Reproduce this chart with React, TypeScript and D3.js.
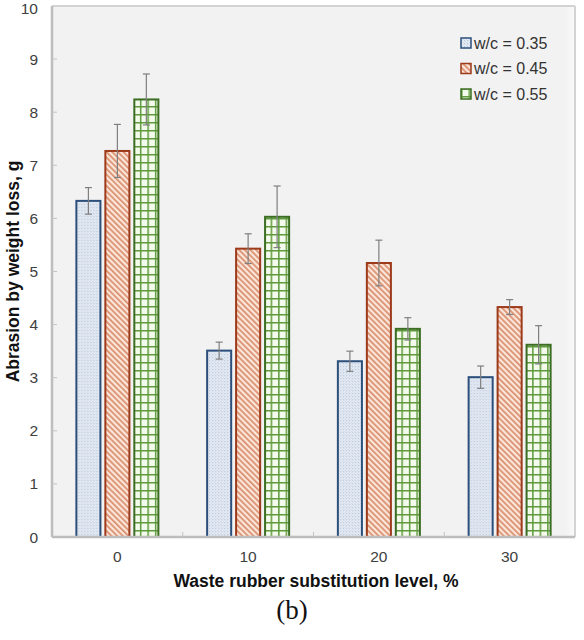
import { useEffect } from 'react';
import * as d3 from 'd3';

const categories = ['0', '10', '20', '30'];
const seriesNames = ['w/c = 0.35', 'w/c = 0.45', 'w/c = 0.55'];
const wc035 = [6.33, 3.51, 3.31, 3.01];
const wc045 = [7.27, 5.43, 5.16, 4.33];
const wc055 = [8.24, 6.03, 3.92, 3.62];
const err035 = [0.25, 0.16, 0.19, 0.21];
const err045 = [0.5, 0.28, 0.43, 0.14];
const err055 = [0.48, 0.58, 0.21, 0.36];
const yTicks = [0, 1, 2, 3, 4, 5, 6, 7, 8, 9, 10];

const W = 584;
const H = 640;
const left = 52;
const right = 575;
const top = 6;
const bottom = 537;

const strokes = ['#2d4f7c', '#9c3a1a', '#3b6d22'];
const patternIds = ['pat-dots', 'pat-hatch', 'pat-grid'];

const App = () => {
  useEffect(() => {
    document.body.style.margin = '0';
  }, []);

  const x = d3.scaleBand<string>().domain(categories).range([left, right]);
  const xs = d3.scaleBand<number>().domain([0, 1, 2]).range([-41, 41]).paddingInner(0.17);
  const y = d3.scaleLinear().domain([0, 10]).range([bottom, top]);

  const values = [wc035, wc045, wc055];
  const errs = [err035, err045, err055];
  const font = 'Liberation Sans, Arial, sans-serif';

  return (
    <svg width={W} height={H} style={{ display: 'block', background: '#fff' }}>
      <defs>
        <pattern id="pat-dots" width={3} height={3} patternUnits="userSpaceOnUse">
          <rect width={3} height={3} fill="#e6ecf4" />
          <circle cx={0.8} cy={0.8} r={0.55} fill="#8aa2c2" />
          <circle cx={2.3} cy={2.2} r={0.45} fill="#b0c1d8" />
        </pattern>
        <pattern id="pat-hatch" width={4} height={4} patternUnits="userSpaceOnUse" patternTransform="rotate(-45)">
          <rect width={4} height={4} fill="#fbe6da" />
          <rect x={0} width={1.7} height={4} fill="#d98d6c" />
        </pattern>
        <pattern id="pat-grid" width={7.5} height={8} patternUnits="userSpaceOnUse" x={0} y={2}>
          <rect width={7.5} height={8} fill="#f4fbec" />
          <rect x={0} y={0} width={7.5} height={1.5} fill="#5e9a3c" />
          <rect x={0} y={0} width={1.5} height={8} fill="#5e9a3c" />
        </pattern>
        <linearGradient id="edge" x1="0" x2="1" y1="0" y2="0">
          <stop offset="0" stopColor="#f2f2f2" />
          <stop offset="1" stopColor="#fafafa" />
        </linearGradient>
      </defs>

      {/* plot area */}
      <rect x={left} y={top} width={right - left} height={bottom - top} fill="#f2f2f2" />
      <rect x={right - 10} y={top} width={10} height={bottom - top} fill="url(#edge)" />
      <line x1={left} x2={right} y1={top} y2={top} stroke="#d3d3d3" strokeWidth={2} />
      <line x1={right} x2={right} y1={top} y2={bottom} stroke="#d3d3d3" strokeWidth={2} />

      {/* bars */}
      {categories.map((c, i) => (
        <g key={c} transform={`translate(${(x(c) ?? 0) + x.bandwidth() / 2},0)`}>
          {values.map((v, s) => {
            const bx = xs(s) ?? 0;
            const bw = xs.bandwidth();
            const val = v[i];
            const e = errs[s][i];
            const cx = bx + bw / 2;
            return (
              <g key={s}>
                <rect
                  x={bx}
                  y={y(val)}
                  width={bw}
                  height={y(0) - y(val)}
                  fill={`url(#${patternIds[s]})`}
                  stroke={strokes[s]}
                  strokeWidth={2}
                />
                <line x1={cx} x2={cx} y1={y(val + e)} y2={y(val - e)} stroke="#7f7f7f" strokeWidth={1.2} />
                <line x1={cx - 3.5} x2={cx + 3.5} y1={y(val + e)} y2={y(val + e)} stroke="#7f7f7f" strokeWidth={1.2} />
                <line x1={cx - 3.5} x2={cx + 3.5} y1={y(val - e)} y2={y(val - e)} stroke="#7f7f7f" strokeWidth={1.2} />
              </g>
            );
          })}
        </g>
      ))}

      {/* axes */}
      <line x1={left} x2={left} y1={top} y2={bottom} stroke="#bdbdbd" strokeWidth={2.5} />
      <line x1={left} x2={right} y1={bottom} y2={bottom} stroke="#bdbdbd" strokeWidth={2.5} />
      {yTicks.map((t) => (
        <g key={t}>
          {t > 0 && t < 10 && (
            <line x1={left} x2={left + 5} y1={y(t)} y2={y(t)} stroke="#c4c4c4" strokeWidth={1} />
          )}
          <text
            x={38}
            y={Math.max(y(t), 8)}
            dy="0.36em"
            textAnchor="end"
            fontFamily={font}
            fontSize={15.5}
            fill="#404040"
          >
            {t}
          </text>
        </g>
      ))}
      {categories.slice(1).map((c) => (
        <line key={c} x1={x(c)} x2={x(c)} y1={bottom} y2={bottom - 5} stroke="#c4c4c4" strokeWidth={1} />
      ))}
      {categories.map((c) => (
        <text
          key={c}
          x={(x(c) ?? 0) + x.bandwidth() / 2}
          y={562}
          textAnchor="middle"
          fontFamily={font}
          fontSize={15.5}
          fill="#404040"
        >
          {c}
        </text>
      ))}

      {/* axis titles */}
      <text
        x={316}
        y={587}
        textAnchor="middle"
        fontFamily={font}
        fontSize={17.5}
        fontWeight="bold"
        fill="#111"
      >
        Waste rubber substitution level, %
      </text>
      <text
        transform={`translate(19,${(top + bottom) / 2}) rotate(-90)`}
        textAnchor="middle"
        fontFamily={font}
        fontSize={17.5}
        fontWeight="bold"
        fill="#111"
      >
        Abrasion by weight loss, g
      </text>

      {/* legend */}
      {seriesNames.map((n, s) => (
        <g key={n} transform={`translate(461,${43 + s * 25.5})`}>
          <rect x={0} y={-5} width={10} height={10} fill={`url(#${patternIds[s]})`} stroke={strokes[s]} strokeWidth={1.5} />
          <text x={13} y={0} dy="0.36em" fontFamily={font} fontSize={16} fill="#333">
            {n}
          </text>
        </g>
      ))}

      <text x={292} y={619} textAnchor="middle" fontFamily="Liberation Serif, Times New Roman, serif" fontSize={27} fill="#111">
        (b)
      </text>
    </svg>
  );
};

export default App;
